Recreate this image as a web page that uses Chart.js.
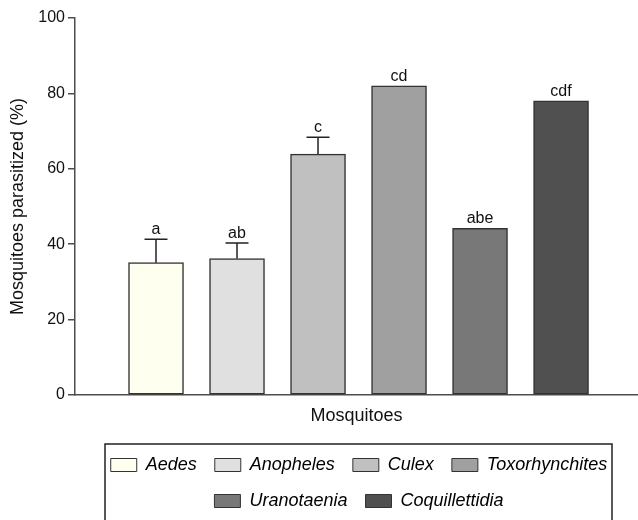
<!DOCTYPE html>
<html>
<head>
<meta charset="utf-8">
<script src="https://cdn.jsdelivr.net/npm/chart.js@4.4.1/dist/chart.umd.min.js"></script>
<style>
  html, body { margin: 0; padding: 0; background: #fff; }
</style>
</head>
<body>
<canvas id="chart" width="638" height="520"></canvas>
<script>
const categories = ['Aedes', 'Anopheles', 'Culex', 'Toxorhynchites', 'Uranotaenia', 'Coquillettidia'];
const parasitized = [35.1, 36.2, 63.9, 82, 44.2, 78];
const errorUp = [6.2, 4.1, 4.5, 0, 0, 0];
const letters = ['a', 'ab', 'c', 'cd', 'abe', 'cdf'];
const yTicks = [0, 20, 40, 60, 80, 100];
const barColors = ['#fffff0', '#e0e0e0', '#c0c0c0', '#a0a0a0', '#787878', '#505050'];

const FONT = '"Liberation Sans", Arial, Helvetica, sans-serif';
Chart.defaults.font.family = FONT;

// error bars (upper only) + significance letters
const errorBars = {
  id: 'errorBars',
  afterDatasetsDraw(chart) {
    const ctx = chart.ctx;
    const y = chart.scales.y;
    const meta = chart.getDatasetMeta(0);
    ctx.save();
    ctx.strokeStyle = '#222';
    ctx.lineWidth = 1.5;
    ctx.fillStyle = '#111';
    ctx.font = '16px ' + FONT;
    ctx.textAlign = 'center';
    ctx.textBaseline = 'alphabetic';
    meta.data.forEach((bar, i) => {
      let top = bar.y;
      if (errorUp[i] > 0) {
        const yErr = y.getPixelForValue(parasitized[i] + errorUp[i]);
        ctx.beginPath();
        ctx.moveTo(bar.x, bar.y);
        ctx.lineTo(bar.x, yErr);
        ctx.moveTo(bar.x - 11.5, yErr);
        ctx.lineTo(bar.x + 11.5, yErr);
        ctx.stroke();
        top = yErr;
      }
      ctx.fillText(letters[i], bar.x, top - 5);
    });
    ctx.restore();
  }
};

// legend sits under the plot area, in a frame
const legendFrame = {
  id: 'legendFrame',
  afterLayout(chart) {
    const lg = chart.legend;
    lg.left += 40;
    lg.right += 40;
  },
  afterDraw(chart) {
    const ctx = chart.ctx;
    const lg = chart.legend;
    ctx.save();
    ctx.strokeStyle = '#222';
    ctx.lineWidth = 1.5;
    ctx.strokeRect(105, lg.top + 6, 507, 100);
    ctx.restore();
  }
};

new Chart(document.getElementById('chart'), {
  type: 'bar',
  data: {
    datasets: [{
      data: parasitized.map((v, i) => ({ x: i + 1, y: v })),
      backgroundColor: barColors,
      borderColor: '#333',
      borderWidth: 1.5,
      borderSkipped: false,
      barThickness: 55
    }]
  },
  options: {
    responsive: false,
    animation: false,
    layout: { padding: { top: 18, left: 0, right: 0, bottom: 0 } },
    plugins: {
      tooltip: { enabled: false },
      legend: {
        position: 'bottom',
        labels: {
          boxWidth: 26,
          boxHeight: 13,
          padding: 18,
          color: '#111',
          font: { size: 18, style: 'italic' },
          generateLabels: () => categories.map((c, i) => ({
            text: c,
            fillStyle: barColors[i],
            strokeStyle: '#333',
            lineWidth: 1,
            hidden: false,
            index: i
          }))
        }
      }
    },
    scales: {
      x: {
        type: 'linear',
        min: 0,
        max: 6.95,
        offset: false,
        grid: { display: false, drawTicks: false },
        border: { display: true, color: '#4d4d4d', width: 1.5 },
        ticks: { display: false },
        title: {
          display: true, text: 'Mosquitoes', color: '#111',
          font: { size: 18 }, padding: { top: 10, bottom: 11 }
        },
        afterFit: s => { s.height = 43; }
      },
      y: {
        min: 0,
        max: 100,
        afterBuildTicks: s => { s.ticks = yTicks.map(v => ({ value: v })); },
        ticks: { padding: 3, color: '#111', font: { size: 16 } },
        grid: { drawOnChartArea: false, drawTicks: true, tickLength: 7, color: '#4d4d4d', lineWidth: 1.5 },
        border: { color: '#4d4d4d', width: 1.5 },
        title: {
          display: true, text: 'Mosquitoes parasitized (%)', color: '#111',
          font: { size: 18 }, padding: { top: 7, bottom: 0 }
        },
        afterFit: s => { s.width = 75; }
      }
    }
  },
  plugins: [errorBars, legendFrame]
});
</script>
</body>
</html>
